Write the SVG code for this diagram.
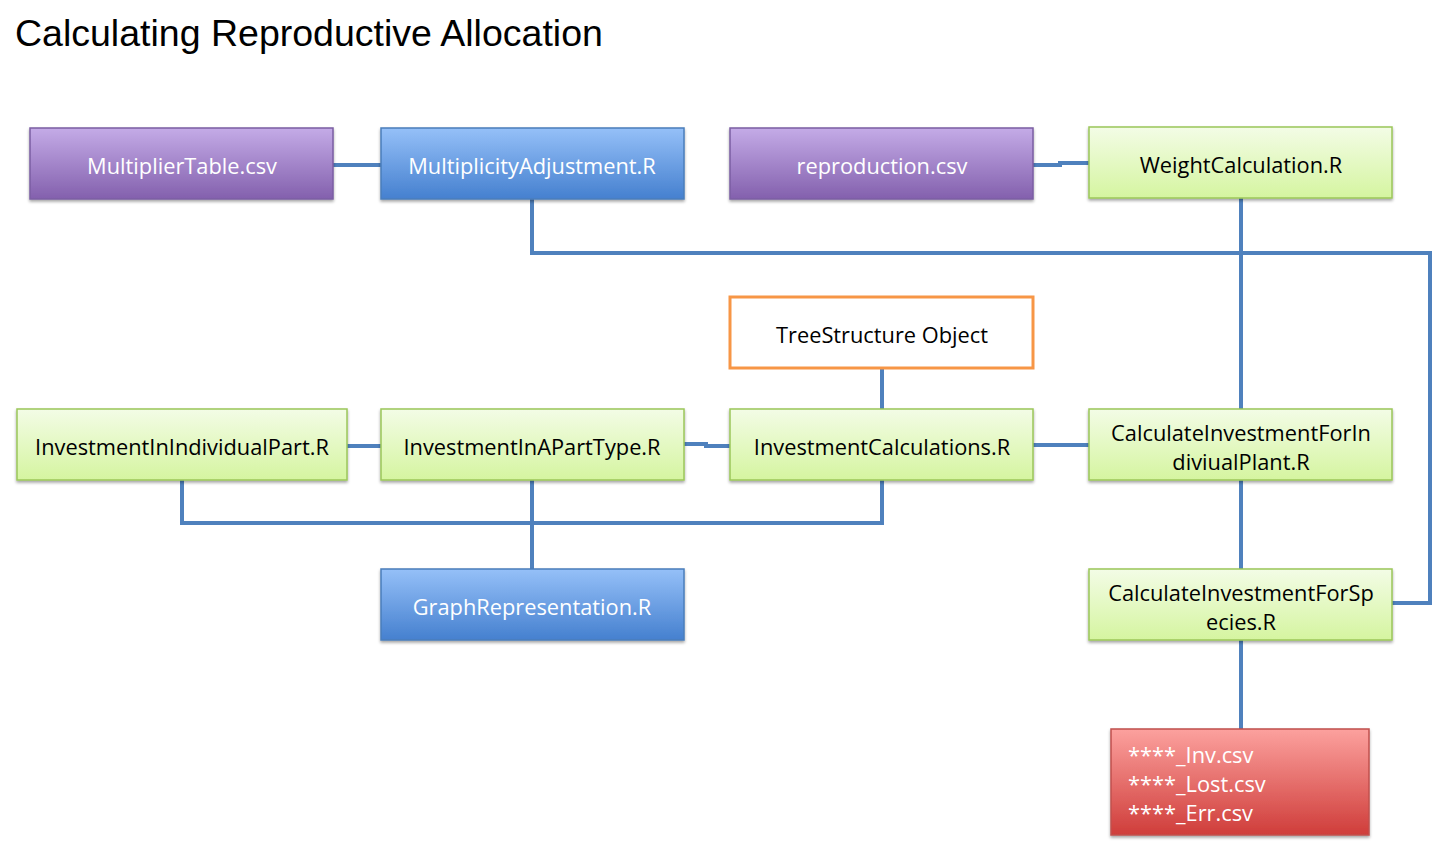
<svg xmlns="http://www.w3.org/2000/svg" width="1439" height="846" viewBox="0 0 1439 846">
<defs>
<linearGradient id="gPurple" x1="0" y1="0" x2="0" y2="1"><stop offset="0" stop-color="#c4abe7"/><stop offset="1" stop-color="#8360ad"/></linearGradient>
<linearGradient id="gBlue" x1="0" y1="0" x2="0" y2="1"><stop offset="0" stop-color="#95c0f8"/><stop offset="1" stop-color="#4580cf"/></linearGradient>
<linearGradient id="gGreen" x1="0" y1="0" x2="0" y2="1"><stop offset="0" stop-color="#f3fce6"/><stop offset="1" stop-color="#d5f5a0"/></linearGradient>
<linearGradient id="gRed" x1="0" y1="0" x2="0" y2="1"><stop offset="0" stop-color="#fca19e"/><stop offset="1" stop-color="#cf3d3a"/></linearGradient>
<filter id="sh" x="-5%" y="-10%" width="110%" height="130%"><feDropShadow dx="0" dy="2" stdDeviation="1.5" flood-color="#000" flood-opacity="0.35"/></filter>
</defs>
<style>
.title{font-family:"Liberation Sans",Arial,sans-serif;font-size:37.5px;fill:#000}
.lbl{font-family:"Open Sans","Liberation Sans",sans-serif;font-size:21.8px;text-anchor:middle}
.w{fill:#fff}
.k{fill:#000}
.purple{fill:url(#gPurple);stroke:#7b5ea3;stroke-width:1.5;filter:url(#sh)}
.blue{fill:url(#gBlue);stroke:#4a7ebb;stroke-width:1.5;filter:url(#sh)}
.green{fill:url(#gGreen);stroke:#9bc65a;stroke-width:1.5;filter:url(#sh)}
.red{fill:url(#gRed);stroke:#c0504d;stroke-width:1.5;filter:url(#sh)}
.orange{fill:#fff;stroke:#f79646;stroke-width:3}
.con{fill:none;stroke:#4f81bd;stroke-width:4}
.red-t{font-family:"Open Sans","Liberation Sans",sans-serif;font-size:21.8px;fill:#fff}
</style>
<rect width="1439" height="846" fill="#fff"/>
<text class="title" x="15" y="46">Calculating Reproductive Allocation</text>

<g id="connectors">
<path class="con" d="M333,165 H381"/>
<path class="con" d="M1033,165 H1060 V163 H1089"/>
<path class="con" d="M532,199 V253 H1430 V603 H1392"/>
<path class="con" d="M1241,198 V409"/>
<path class="con" d="M882,368 V409"/>
<path class="con" d="M347,446 H381"/>
<path class="con" d="M684,444 H706 V446 H730"/>
<path class="con" d="M1033,445 H1089"/>
<path class="con" d="M1241,480 V569"/>
<path class="con" d="M1241,640 V729"/>
<path class="con" d="M182,480 V523 H882 V480"/>
<path class="con" d="M532,480 V569"/>
</g>

<g id="n-multipliertable"><rect class="purple" x="30" y="128" width="303" height="71"/><text class="lbl w" x="182" y="174">MultiplierTable.csv</text></g>
<g id="n-multiplicityadjustment"><rect class="blue" x="381" y="128" width="303" height="71"/><text class="lbl w" x="532" y="174">MultiplicityAdjustment.R</text></g>
<g id="n-reproduction"><rect class="purple" x="730" y="128" width="303" height="71"/><text class="lbl w" x="882" y="174">reproduction.csv</text></g>
<g id="n-weightcalculation"><rect class="green" x="1089" y="127" width="303" height="71"/><text class="lbl k" x="1241" y="173">WeightCalculation.R</text></g>
<g id="n-treestructure"><rect class="orange" x="730" y="297" width="303" height="71"/><text class="lbl k" x="882" y="343">TreeStructure Object</text></g>
<g id="n-individualpart"><rect class="green" x="17" y="409" width="330" height="71"/><text class="lbl k" x="182" y="455">InvestmentInIndividualPart.R</text></g>
<g id="n-aparttype"><rect class="green" x="381" y="409" width="303" height="71"/><text class="lbl k" x="532" y="455">InvestmentInAPartType.R</text></g>
<g id="n-investmentcalculations"><rect class="green" x="730" y="409" width="303" height="71"/><text class="lbl k" x="882" y="455">InvestmentCalculations.R</text></g>
<g id="n-individualplant"><rect class="green" x="1089" y="409" width="303" height="71"/><text class="lbl k" x="1241" y="441">CalculateInvestmentForIn</text><text class="lbl k" x="1241" y="470">diviualPlant.R</text></g>
<g id="n-graphrepresentation"><rect class="blue" x="381" y="569" width="303" height="71"/><text class="lbl w" x="532" y="615">GraphRepresentation.R</text></g>
<g id="n-species"><rect class="green" x="1089" y="569" width="303" height="71"/><text class="lbl k" x="1241" y="601">CalculateInvestmentForSp</text><text class="lbl k" x="1241" y="630">ecies.R</text></g>
<g id="n-outputs"><rect class="red" x="1111" y="729" width="258" height="106"/>
<text class="red-t" x="1128" y="763">****_Inv.csv</text>
<text class="red-t" x="1128" y="792">****_Lost.csv</text>
<text class="red-t" x="1128" y="821">****_Err.csv</text></g>
</svg>
